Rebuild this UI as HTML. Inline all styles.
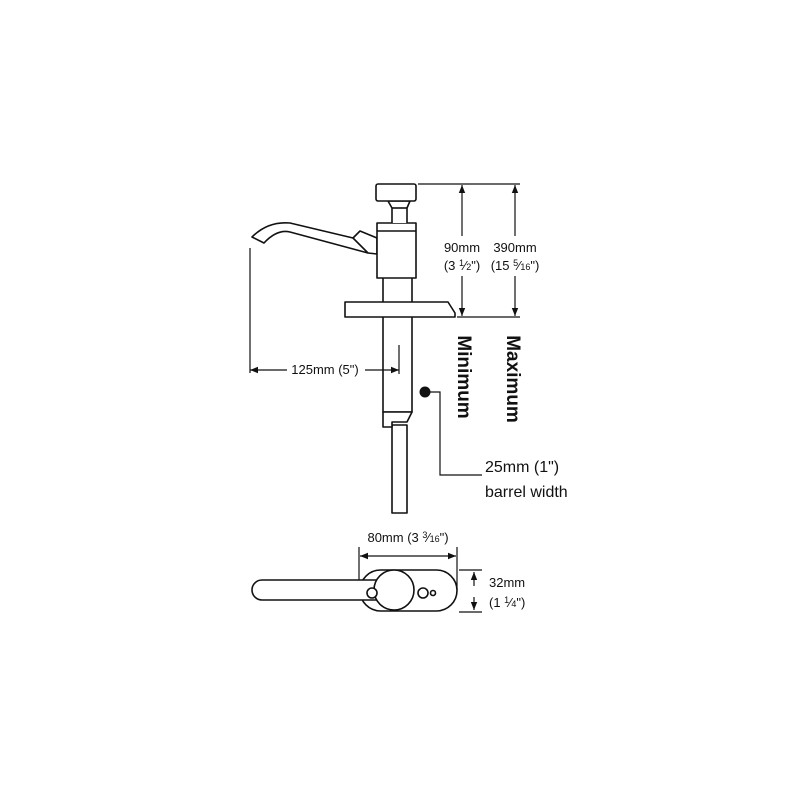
<!DOCTYPE html>
<html><head><meta charset="utf-8"><style>
html,body{margin:0;padding:0;background:#fff;width:800px;height:800px;overflow:hidden}
svg{display:block}
text{font-family:"Liberation Sans",Arial,sans-serif;fill:#111}
</style></head><body>
<svg width="800" height="800" viewBox="0 0 800 800" xmlns="http://www.w3.org/2000/svg">
<defs>
<marker id="a" viewBox="0 0 10 10" refX="10" refY="5" markerWidth="8" markerHeight="8" orient="auto-start-reverse" markerUnits="userSpaceOnUse"><path d="M0,1 L10,5 L0,9 z" fill="#111"/></marker>
</defs>
<g fill="#fff" stroke="#111" stroke-width="1.6" stroke-linejoin="round">
<!-- handle -->
<path d="M252,237 Q268,221 290,223 L353,238 L360,231 L377,238 L377,254 L368,253 L290,232 Q277,229 264,243 Z"/>
<line x1="353" y1="238" x2="368" y2="253"/>
<!-- lower tube -->
<rect x="392" y="425" width="15" height="88"/>
<!-- barrel -->
<rect x="383" y="270" width="29" height="142"/>
<path d="M383,412 L412,412 L407,422 L392,422 L392,427 L383,427 Z"/>
<!-- flange -->
<path d="M345,302 L448,302 L455,313 L455,317 L345,317 Z"/>
<!-- body -->
<rect x="377" y="223" width="39" height="55"/>
<line x1="377" y1="231" x2="416" y2="231"/>
<!-- stem -->
<path d="M392,223 L392,208 L388,201 L410,201 L407,208 L407,223"/>
<line x1="392" y1="208" x2="407" y2="208"/>
<!-- knob -->
<rect x="376" y="184" width="40" height="17" rx="2"/>
</g>
<g stroke="#111" stroke-width="1.2" fill="none">
<line x1="250" y1="248" x2="250" y2="373"/>
<line x1="250" y1="370" x2="287" y2="370" marker-start="url(#a)"/>
<line x1="365" y1="370" x2="399" y2="370" marker-end="url(#a)"/>
<line x1="399" y1="345" x2="399" y2="374"/>
<line x1="418" y1="184" x2="520" y2="184"/>
<line x1="457" y1="317" x2="520" y2="317"/>
<line x1="462" y1="185" x2="462" y2="236" marker-start="url(#a)"/>
<line x1="462" y1="276" x2="462" y2="316" marker-end="url(#a)"/>
<line x1="515" y1="185" x2="515" y2="236" marker-start="url(#a)"/>
<line x1="515" y1="276" x2="515" y2="316" marker-end="url(#a)"/>
<path d="M425,392 L440,392 L440,475 L482,475"/>
</g>
<circle cx="425" cy="392" r="5.5" fill="#111"/>
<text x="325" y="374" font-size="13" text-anchor="middle">125mm (5")</text>
<text x="462" y="252" font-size="13" text-anchor="middle">90mm</text>
<text x="462" y="270" font-size="13" text-anchor="middle">(3 <tspan font-size="9" dy="-4">1</tspan><tspan dy="4">⁄</tspan><tspan font-size="9">2</tspan>")</text>
<text x="515" y="252" font-size="13" text-anchor="middle">390mm</text>
<text x="515" y="270" font-size="13" text-anchor="middle">(15 <tspan font-size="9" dy="-4">5</tspan><tspan dy="4">⁄</tspan><tspan font-size="9">16</tspan>")</text>
<text transform="translate(458,377) rotate(90)" font-size="19" font-weight="bold" text-anchor="middle">Minimum</text>
<text transform="translate(507,379) rotate(90)" font-size="19" font-weight="bold" text-anchor="middle">Maximum</text>
<text x="485" y="472" font-size="16">25mm (1")</text>
<text x="485" y="497" font-size="16">barrel width</text>
<!-- bottom view -->
<g stroke="#111" stroke-width="1.2" fill="none">
<line x1="359" y1="547" x2="359" y2="581"/>
<line x1="457" y1="547" x2="457" y2="590"/>
<line x1="360" y1="556" x2="456" y2="556" marker-start="url(#a)" marker-end="url(#a)"/>
<line x1="459" y1="570" x2="482" y2="570"/>
<line x1="459" y1="612" x2="482" y2="612"/>
<line x1="474" y1="586" x2="474" y2="572" marker-end="url(#a)"/>
<line x1="474" y1="597" x2="474" y2="610" marker-end="url(#a)"/>
</g>
<g fill="#fff" stroke="#111" stroke-width="1.6">
<rect x="360" y="570" width="97" height="41" rx="20.5"/>
<path d="M380,580 L262,580 A10,10 0 0 0 262,600 L380,600"/>
<circle cx="394" cy="590" r="20"/>
<circle cx="372" cy="593" r="5"/>
<circle cx="423" cy="593" r="5"/>
<circle cx="433" cy="593" r="2.5"/>
</g>
<text x="408" y="542" font-size="13" text-anchor="middle">80mm (3 <tspan font-size="9" dy="-4">3</tspan><tspan dy="4">⁄</tspan><tspan font-size="9">16</tspan>")</text>
<text x="489" y="587" font-size="13">32mm</text>
<text x="489" y="607" font-size="13">(1 <tspan font-size="9" dy="-4">1</tspan><tspan dy="4">⁄</tspan><tspan font-size="9">4</tspan>")</text>
</svg>
</body></html>
